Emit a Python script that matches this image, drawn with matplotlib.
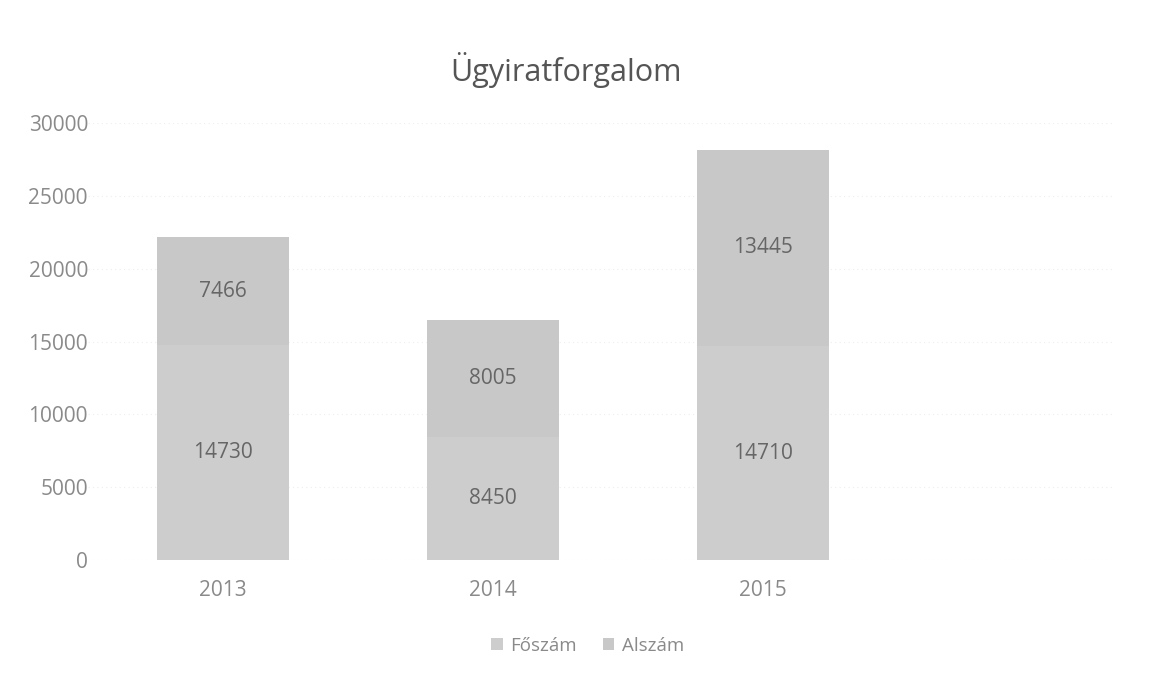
import matplotlib
matplotlib.use("Agg")
import matplotlib.pyplot as plt
import numpy as np

years = ["2013", "2014", "2015"]
foszam = [14730, 8450, 14710]
alszam = [7466, 8005, 13445]
yticks = [0, 5000, 10000, 15000, 20000, 25000, 30000]

plt.rcParams["font.family"] = ["Open Sans", "DejaVu Sans"]

fig = plt.figure(figsize=(11.5, 6.75), dpi=100)
ax = fig.add_axes([0.0765, 0.17, 0.892, 0.648])

x = np.arange(len(years))
w = 0.49
b1 = ax.bar(x, foszam, w, color="#cdcdcd", label="Főszám")
b2 = ax.bar(x, alszam, w, bottom=foszam, color="#c8c8c8", label="Alszám")

for bars, vals, base in [(b1, foszam, [0] * 3), (b2, alszam, foszam)]:
    for r, v, b in zip(bars, vals, base):
        ax.text(r.get_x() + r.get_width() / 2, b + v / 2, str(v),
                ha="center", va="center", fontsize=15, color="#666666")

ax.set_xlim(-0.5, 3.3)
ax.set_ylim(0, 30000)
ax.set_yticks(yticks)
ax.set_yticklabels([str(t) for t in yticks])
ax.set_xticks(x)
ax.set_xticklabels(years)
ax.grid(axis="y", color="#eeeeee", lw=0.8, ls=(0, (1, 3)))
ax.set_axisbelow(True)
for s in ax.spines.values():
    s.set_visible(False)
ax.tick_params(length=0, labelsize=15, labelcolor="#8a8a8a")
ax.tick_params(axis="y", pad=0)
ax.tick_params(axis="x", pad=14)

fig.text(0.492, 0.896, "Ügyiratforgalom", ha="center", va="center",
         fontsize=22, color="#555555")
fig.legend(handles=[b1, b2], loc="center", bbox_to_anchor=(0.511, 0.043), ncol=2,
           frameon=False, fontsize=13.5, labelcolor="#8a8a8a", handlelength=0.6,
           handleheight=0.6, handletextpad=0.4, columnspacing=1.4)

fig.savefig("out.png", dpi=100, facecolor="white")
